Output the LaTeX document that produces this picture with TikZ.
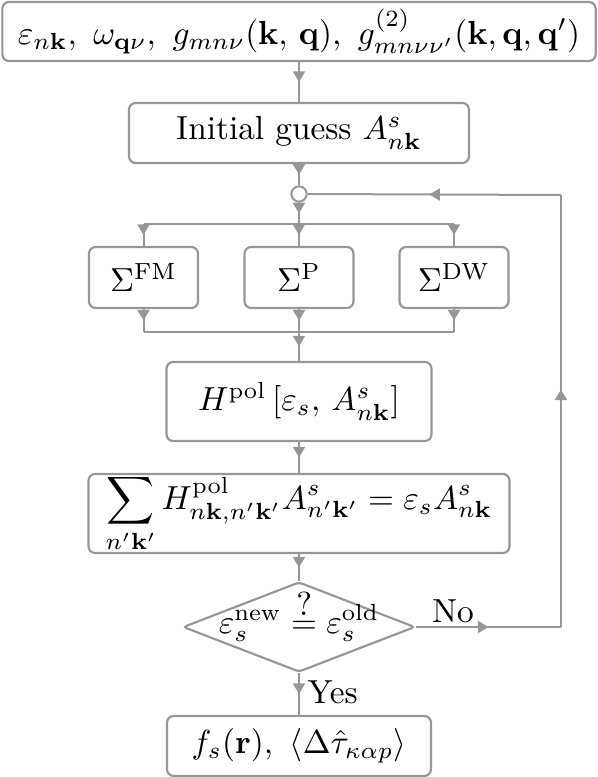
\documentclass[tikz,border=0pt]{standalone}
\usepackage{amsmath,amssymb}
\usetikzlibrary{arrows.meta,decorations.markings,shapes.geometric,calc}
\definecolor{linec}{RGB}{150,150,150}
\newcommand\qeq{\mathrel{\vbox{\offinterlineskip\halign{\hfil##\hfil\cr$?$\cr\noalign{\kern1.6pt}$=$\cr}}}}
\tikzset{
  box/.style={draw=linec,line width=0.65pt,rounded corners=2pt,inner sep=0pt,align=center},
  midarrow/.style={draw=linec,line width=0.6pt,postaction={decorate},
    decoration={markings,mark=at position #1 with {\arrow{Triangle[length=3.2pt,width=3.6pt]}}}},
  midarrow/.default=0.5,
  plainline/.style={draw=linec,line width=0.6pt},
}
\begin{document}
\begin{tikzpicture}[x=0.3pt,y=-0.3pt]
\useasboundingbox (0,0) rectangle (598,777);
% nodes
\node[box,minimum width=178pt,minimum height=17.7pt] (top) at (299,31.5)
  {$\varepsilon_{n\mathbf{k}},\ \omega_{\mathbf{q}\nu},\ g_{mn\nu}(\mathbf{k},\,\mathbf{q}),\ g^{(2)}_{mn\nu\nu'}(\mathbf{k},\mathbf{q},\mathbf{q}')$};
\node[box,minimum width=102pt,minimum height=18pt] (init) at (299,133)
  {Initial guess $A^s_{n\mathbf{k}}$};
\node[draw=linec,line width=0.6pt,circle,minimum size=4.6pt,inner sep=0pt,fill=white] (circ) at (299,194) {};
\node[box,minimum width=32.7pt,minimum height=18.3pt] (fm) at (143.5,277.5) {$\Sigma^{\mathrm{FM}}$};
\node[box,minimum width=32.7pt,minimum height=18.3pt] (p) at (299,277.5) {$\Sigma^{\mathrm{P}}$};
\node[box,minimum width=32.7pt,minimum height=18.3pt] (dw) at (454,277.5) {$\Sigma^{\mathrm{DW}}$};
\node[box,minimum width=79.5pt,minimum height=23.7pt] (hpol) at (299,401.5)
  {$H^{\mathrm{pol}}\left[\varepsilon_s,\, A^s_{n\mathbf{k}}\right]$};
\node[box,minimum width=126.3pt,minimum height=23.7pt] (sum) at (299,513.5)
  {$\displaystyle\sum_{n'\mathbf{k}'} H^{\mathrm{pol}}_{n\mathbf{k},n'\mathbf{k}'}A^s_{n'\mathbf{k}'}=\varepsilon_s A^s_{n\mathbf{k}}$};
\node[draw=linec,line width=0.65pt,diamond,aspect=2.58,minimum width=69.6pt,minimum height=27pt,inner sep=0pt,rounded corners=1pt] (dia) at (299,627) {};
\node[anchor=base,inner sep=0pt] (diat) at (299,633)
  {$\varepsilon_s^{\mathrm{new}}\qeq\varepsilon_s^{\mathrm{old}}$};
\node[box,minimum width=79.2pt,minimum height=18pt] (fin) at (299,746)
  {$f_s(\mathbf{r}),\ \langle\Delta\hat{\tau}_{\kappa\alpha p}\rangle$};
% coordinates
\coordinate (br) at (299,224);
\coordinate (brfm) at (143.5,224);
\coordinate (brdw) at (454,224);
\coordinate (mg) at (299,332);
\coordinate (mgfm) at (143.5,332);
\coordinate (mgdw) at (454,332);
\coordinate (fb1) at (561,627);
\coordinate (fb2) at (561,195);
% connectors
\path[midarrow] (top.south) -- (init.north);
\path[midarrow] (init.south) -- (circ.north);
\path[midarrow] (circ.south) -- (br);
\path[plainline] (brfm) -- (brdw);
\path[midarrow] (brfm) -- (fm.north);
\path[midarrow] (br) -- (p.north);
\path[midarrow] (brdw) -- (dw.north);
\path[midarrow] (fm.south) -- (mgfm);
\path[midarrow] (p.south) -- (mg);
\path[midarrow] (dw.south) -- (mgdw);
\path[plainline] (mgfm) -- (mgdw);
\path[midarrow] (mg) -- (hpol.north);
\path[midarrow] (hpol.south) -- (sum.north);
\path[midarrow] (sum.south) -- (dia.north);
\path[midarrow] (dia.south) -- (fin.north);
\path[midarrow] (dia.east) -- (fb1);
\path[midarrow=0.55] (fb1) -- (fb2);
\path[midarrow=0.52] (fb2) -- (circ.east);
% labels
\node[anchor=base,inner sep=0pt] (no) at (453,622) {No};
\node[anchor=base west,inner sep=0pt] (yes) at (307,703) {Yes};
\end{tikzpicture}
\end{document}
